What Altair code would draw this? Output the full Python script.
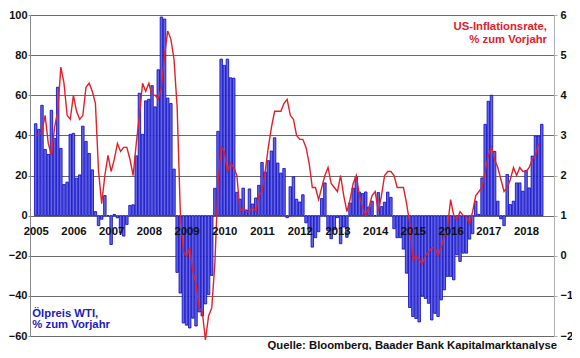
import altair as alt
import pandas as pd

# ---------------- data ----------------
years = list(range(2005, 2019))

# WTI oil price, % yoy, monthly Jan 2005 - Jun 2018 (left axis)
wti = [
    45.8, 43.0, 55.0, 33.0, 30.5, 52.5, 38.5, 64.0, 33.5, 15.5, 16.7, 40.5,   # 2005
    41.0, 18.7, 20.3, 44.6, 37.0, 31.0, 22.8, 2.0, -5.0, -1.8, 10.0, 0.0,     # 2006
    -14.4, 0.6, -1.1, -8.6, -10.2, -4.4, 5.1, 5.4, 29.8, 61.0, 40.5, 57.2,    # 2007
    58.0, 64.8, 54.2, 72.7, 99.0, 98.0, 58.6, 55.9, 23.2, -28.3, -38.6, -53.5,  # 2008
    -54.6, -56.0, -51.1, -55.0, -48.0, -50.0, -44.0, -39.4, -29.8, 13.6, 42.0, 78.0,  # 2009
    74.9, 78.0, 68.7, 68.5, 11.6, 8.2, 13.7, 2.8, 13.3, 5.8, 8.8, 15.1,       # 2010
    26.5, 21.7, 27.4, 32.2, 38.8, 26.2, 21.2, 23.5, -1.0, 14.4, 19.3, 8.2,    # 2011
    6.8, 10.4, -3.6, -8.0, -15.7, -11.0, -8.0, 8.5, 16.3, -7.5, -11.5, -7.0,  # 2012
    -1.0, -14.0, -5.7, -10.8, 6.3, 13.7, 19.3, 11.7, 11.0, 11.8, 4.3, 7.2,    # 2013
    0.0, 11.5, 4.5, 6.7, 11.7, 9.1, -6.5, -11.0, -11.0, -16.7, -28.7, -45.8,  # 2014
    -50.3, -51.3, -53.0, -40.0, -41.3, -43.7, -52.0, -48.7, -50.3, -42.0, -37.0, -30.3,  # 2015
    -30.3, -32.0, -19.5, -22.8, -18.7, -18.7, -11.7, -9.0, 7.2, 0.6, 18.8, 45.5,  # 2016
    57.0, 60.0, 32.0, 7.2, -1.6, -5.0, 20.5, 5.5, 7.2, 16.3, 16.3, 12.2,      # 2017
    22.5, 13.8, 29.7, 39.7, 39.7, 45.5,                                       # 2018
]

# US inflation rate, % yoy, monthly Jan 2005 - May 2018 (right axis)
cpi = [
    3.0, 3.0, 3.1, 3.5, 2.8, 2.5, 3.2, 3.6, 4.7, 4.3, 3.5, 3.4,   # 2005
    4.0, 3.6, 3.4, 3.5, 4.2, 4.3, 4.1, 3.8, 2.1, 1.3, 2.0, 2.5,   # 2006
    2.1, 2.4, 2.8, 2.6, 2.7, 2.7, 2.4, 2.0, 2.8, 3.5, 4.3, 4.1,   # 2007
    4.3, 4.0, 4.0, 3.9, 4.2, 5.0, 5.6, 5.4, 4.9, 3.7, 1.1, 0.1,   # 2008
    0.0, 0.2, -0.4, -0.7, -1.3, -1.4, -2.1, -1.5, -1.3, -0.2, 1.8, 2.7,  # 2009
    2.6, 2.1, 2.3, 2.2, 2.0, 1.1, 1.2, 1.1, 1.1, 1.2, 1.1, 1.5,   # 2010
    1.6, 2.1, 2.7, 3.2, 3.6, 3.6, 3.6, 3.8, 3.9, 3.5, 3.4, 3.0,   # 2011
    2.9, 2.9, 2.7, 2.3, 1.7, 1.7, 1.4, 1.7, 2.0, 2.2, 1.8, 1.7,   # 2012
    1.6, 2.0, 1.5, 1.1, 1.4, 1.8, 2.0, 1.5, 1.2, 1.0, 1.2, 1.5,   # 2013
    1.6, 1.1, 1.5, 2.0, 2.1, 2.1, 2.0, 1.7, 1.7, 1.7, 1.3, 0.8,   # 2014
    -0.1, 0.0, -0.1, -0.2, 0.0, 0.1, 0.2, 0.2, 0.0, 0.2, 0.5, 0.7,  # 2015
    1.4, 1.0, 0.9, 1.1, 1.0, 1.0, 0.8, 1.1, 1.5, 1.6, 1.7, 2.1,   # 2016
    2.5, 2.7, 2.4, 2.2, 1.9, 1.6, 1.7, 1.9, 2.2, 2.0, 2.2, 2.1,   # 2017
    2.1, 2.2, 2.4, 2.5, 2.8,                                      # 2018
]

left_ticks = [-60, -40, -20, 0, 20, 40, 60, 80, 100]
right_ticks = [-2, -1, 0, 1, 2, 3, 4, 5, 6]

red_label = ["US-Inflationsrate,", "% zum Vorjahr"]
blue_label = ["Ölpreis WTI,", "% zum Vorjahr"]
source_label = "Quelle: Bloomberg, Baader Bank Kapitalmarktanalyse"

# ---------------- styling ----------------
FONT = "Liberation Sans"
FS = 11.3
RED = "#e3202a"
BLUE = "#1c1cc0"
GRID = "#6a6a6a"

bars_df = pd.DataFrame({"m": list(range(len(wti))), "wti": wti})
line_df = pd.DataFrame({"m": list(range(len(cpi))), "cpi": cpi})

year_arr = "[" + ",".join("'%d'" % y for y in years) + "]"
x_enc = alt.X(
    "m:Q",
    scale=alt.Scale(domain=[-0.22, 163.3], nice=False, zero=False),
    axis=alt.Axis(
        values=[12 * k for k in range(len(years))],
        labelExpr=year_arr + "[round(datum.value/12)]",
        orient="bottom",
        offset=-120,
        domain=False,
        ticks=False,
        tickSize=0,
        grid=False,
        labelPadding=9,
        labelFlush=False,
        labelOverlap=False,
        labelAngle=0,
        labelFont=FONT,
        labelFontSize=FS,
        labelFontWeight="bold",
        labelColor="#111111",
        zindex=1,
    ),
    title=None,
)

bars = alt.Chart(bars_df).mark_bar(
    width=2.5, fill="#6464e6", stroke="#0808c0", strokeWidth=0.8
).encode(
    x=x_enc,
    y=alt.Y(
        "wti:Q",
        scale=alt.Scale(domain=[-60, 100], nice=False, zero=False),
        axis=alt.Axis(
            values=left_ticks,
            orient="left",
            grid=True,
            gridColor=GRID,
            gridWidth=1,
            domainColor="#8a8a8a",
            tickColor="#8a8a8a",
            tickSize=2,
            labelPadding=1,
            labelFont=FONT,
            labelFontSize=11,
            labelFontWeight="bold",
            labelColor="#111111",
        ),
        title=None,
    ),
)

line = alt.Chart(line_df).mark_line(color=RED, strokeWidth=1.4).encode(
    x=x_enc,
    y=alt.Y(
        "cpi:Q",
        scale=alt.Scale(domain=[-2, 6], nice=False, zero=False),
        axis=alt.Axis(
            values=right_ticks,
            orient="right",
            grid=False,
            domainColor="#b0b0b0",
            tickColor="#b0b0b0",
            tickSize=3,
            labelPadding=3,
            labelFont=FONT,
            labelFontSize=11,
            labelFontWeight="bold",
            labelColor="#111111",
        ),
        title=None,
    ),
)


def txt(s, x, y, align, color):
    return alt.Chart(pd.DataFrame({"t": [s]})).mark_text(
        align=align, baseline="alphabetic", font=FONT, fontSize=FS,
        fontWeight="bold", color=color,
    ).encode(text="t:N", x=alt.value(x), y=alt.value(y))


texts = [
    txt(red_label[0], 517, 14.5, "right", RED),
    txt(red_label[1], 517, 27.8, "right", RED),
    txt(blue_label[0], 2.3, 301.8, "left", BLUE),
    txt(blue_label[1], 2.3, 312.6, "left", BLUE),
    txt(source_label, 527, 333.5, "right", "#111111"),
]

chart = alt.layer(bars, line, *texts).resolve_scale(y="independent").properties(
    width=524,
    height=321,
    padding={"left": 22, "top": 7, "right": 18, "bottom": 14},
    autosize=alt.AutoSizeParams(type="none"),
).configure_view(stroke=None)

chart.save("out.html", embed_options={"renderer": "svg", "actions": False})
